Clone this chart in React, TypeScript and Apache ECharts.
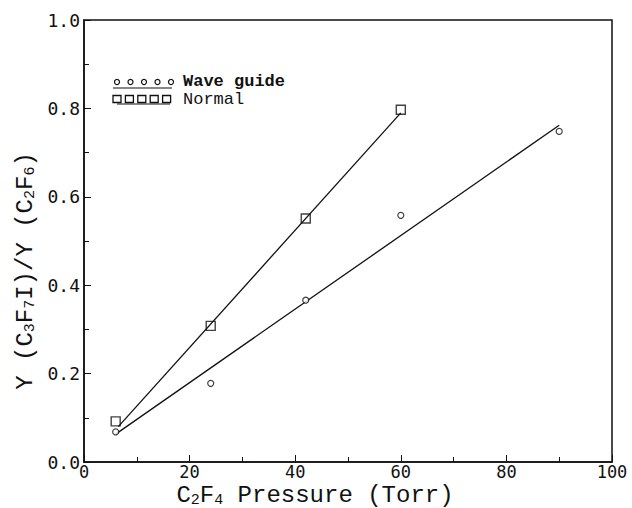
import React, { useEffect, useRef } from "react";
import * as echarts from "echarts";

const waveGuideX = [6, 24, 42, 60, 90];
const waveGuideY = [0.068, 0.178, 0.366, 0.558, 0.748];
const normalX = [6, 24, 42, 60];
const normalY = [0.092, 0.308, 0.551, 0.797];
// Fitted lines (end points)
const waveFitX = [6, 90];
const waveFitY = [0.063, 0.762];
const normalFitX = [6.5, 60];
const normalFitY = [0.08, 0.79];

const xTicks = [0, 20, 40, 60, 80, 100];
const yTicks = [0, 0.2, 0.4, 0.6, 0.8, 1.0];

const legendLabels = ["Wave guide", "Normal"];
const xTitle = "{m|C}{s|2}{m|F}{s|4}{m| Pressure (Torr)}";
const yTitle = "{m|Y (C}{s|3}{m|F}{s|7}{m|I)/Y (C}{s|2}{m|F}{s|6}{m|)}";

const zip = (xs: number[], ys: number[]) => xs.map((x, i) => [x, ys[i]]);

export default function App() {
  const ref = useRef<HTMLDivElement>(null);
  useEffect(() => {
    if (!ref.current) return;
    const chart = echarts.init(ref.current, undefined, { renderer: "svg" });
    const mono = "DejaVu Sans Mono";
    const tw = "Liberation Mono";
    const rich = {
      m: { fontFamily: tw, fontSize: 24, lineHeight: 26, color: "#111" },
      s: { fontFamily: tw, fontSize: 15, lineHeight: 14, verticalAlign: "bottom", color: "#111" },
    };
    const legendItems: any[] = [];
    for (let i = 0; i < 5; i++) {
      legendItems.push({
        type: "circle",
        shape: { cx: 117 + i * 13.5, cy: 82, r: 2.5 },
        style: { fill: "none", stroke: "#111", lineWidth: 1.2 },
      });
      legendItems.push({
        type: "rect",
        shape: { x: 113 + i * 12.4, y: 95.5, width: 8, height: 7 },
        style: { fill: "none", stroke: "#111", lineWidth: 1.3 },
      });
    }
    legendItems.push(
      { type: "line", shape: { x1: 113, y1: 88, x2: 172, y2: 88 }, style: { stroke: "#111", lineWidth: 1.2 } },
      { type: "line", shape: { x1: 117, y1: 104, x2: 170, y2: 104 }, style: { stroke: "#111", lineWidth: 1.2 } },
      {
        type: "text", x: 183, y: 81,
        style: { text: legendLabels[0], fontFamily: tw, fontSize: 17, fontWeight: "bold", lineHeight: 14, fill: "#111", verticalAlign: "middle" },
      },
      {
        type: "text", x: 183, y: 99,
        style: { text: legendLabels[1], fontFamily: tw, fontSize: 17, lineHeight: 14, fill: "#111", verticalAlign: "middle" },
      },
      {
        type: "text", x: 315, y: 495,
        style: { text: xTitle, rich, align: "center", verticalAlign: "middle", fill: "#111" },
      },
      {
        type: "text", x: 25, y: 271, rotation: Math.PI / 2,
        style: { text: yTitle, rich, align: "center", verticalAlign: "middle", fill: "#111" },
      }
    );

    chart.setOption({
      animation: false,
      backgroundColor: "#fff",
      grid: {
        left: 84, right: 20, top: 20, bottom: 46,
        outerBoundsMode: "none",
        containLabel: false,
        show: true, borderColor: "#111", borderWidth: 1.5, backgroundColor: "transparent",
      },
      xAxis: {
        type: "value",
        min: xTicks[0],
        max: xTicks[xTicks.length - 1],
        interval: 20,
        axisLine: { lineStyle: { color: "#111", width: 1.5 } },
        axisTick: { inside: true, length: 7, lineStyle: { color: "#111" } },
        minorTick: { show: true, splitNumber: 2, length: 5, lineStyle: { color: "#111" } },
        splitLine: { show: false },
        axisLabel: { fontFamily: mono, fontSize: 17, lineHeight: 14, color: "#111", margin: 3 },
      },
      yAxis: {
        type: "value",
        min: yTicks[0],
        max: yTicks[yTicks.length - 1],
        interval: 0.2,
        axisLine: { show: true, lineStyle: { color: "#111", width: 1.5 } },
        axisTick: { show: true, inside: true, length: 7, lineStyle: { color: "#111" } },
        minorTick: { show: true, splitNumber: 2, length: 5, lineStyle: { color: "#111" } },
        splitLine: { show: false },
        axisLabel: { fontFamily: mono, fontSize: 18, lineHeight: 15, color: "#111", margin: 4, formatter: (v: number) => v.toFixed(1) },
      },
      series: [
        {
          type: "line",
          data: zip(waveFitX, waveFitY),
          symbol: "none",
          lineStyle: { color: "#111", width: 1.3 },
        },
        {
          type: "line",
          data: zip(normalFitX, normalFitY),
          symbol: "none",
          lineStyle: { color: "#111", width: 1.3 },
        },
        {
          type: "scatter",
          name: legendLabels[0],
          data: zip(waveGuideX, waveGuideY),
          symbol: "circle",
          symbolSize: 6,
          itemStyle: { color: "#fff", borderColor: "#111", borderWidth: 1.2 },
          z: 5,
        },
        {
          type: "scatter",
          name: legendLabels[1],
          data: zip(normalX, normalY),
          symbol: "rect",
          symbolSize: 9,
          itemStyle: { color: "transparent", borderColor: "#111", borderWidth: 1.4 },
          z: 5,
        },
      ],
      graphic: legendItems,
    });
    return () => chart.dispose();
  }, []);
  return <div ref={ref} style={{ width: 632, height: 508, position: "absolute", left: 0, top: 0 }} />;
}
